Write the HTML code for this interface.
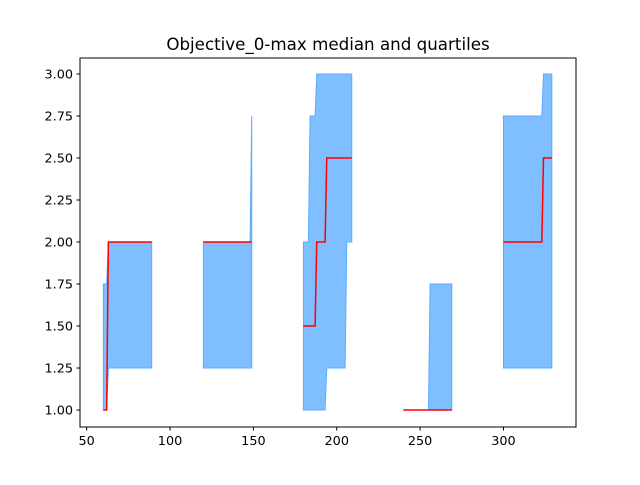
<!DOCTYPE html>
<html><head><meta charset="utf-8"><style>
body{margin:0;background:#fff}
svg text{font-family:"DejaVu Sans","Liberation Sans",sans-serif;fill:#000}
</style></head><body>
<svg id="chart" width="640" height="480">
<text x="328" y="50" font-size="16.7" text-anchor="middle">Objective_0-max median and quartiles</text>
<g id="plot"></g>
<rect x="80" y="58" width="496" height="369" fill="none" stroke="#000" stroke-width="1"/>
<g id="axes"></g>
</svg>
<script>
const seg1X=[60,62,63,89];
const seg1Upper=[1.75,1.75,2.0,2.0];
const seg1Lower=[1.0,1.0,1.25,1.25];
const seg1Median=[1.0,1.0,2.0,2.0];
const seg2X=[120,148,149];
const seg2Upper=[2.0,2.0,2.75];
const seg2Lower=[1.25,1.25,1.25];
const seg2Median=[2.0,2.0,2.0];
const seg3X=[180,183,184,187,188,189,193,194,205,206,209];
const seg3Upper=[2.0,2.0,2.75,2.75,3.0,3.0,3.0,3.0,3.0,3.0,3.0];
const seg3Lower=[1.0,1.0,1.0,1.0,1.0,1.0,1.0,1.25,1.25,2.0,2.0];
const seg3Median=[1.5,1.5,1.5,1.5,2.0,2.0,2.0,2.5,2.5,2.5,2.5];
const seg4X=[240,255,256,269];
const seg4Upper=[1.0,1.0,1.75,1.75];
const seg4Lower=[1.0,1.0,1.0,1.0];
const seg4Median=[1.0,1.0,1.0,1.0];
const seg5X=[300,322,323,324,329];
const seg5Upper=[2.75,2.75,2.75,3.0,3.0];
const seg5Lower=[1.25,1.25,1.25,1.25,1.25];
const seg5Median=[2.0,2.0,2.0,2.5,2.5];
const xTicks=[50,100,150,200,250,300];
const yTicks=[1.00,1.25,1.50,1.75,2.00,2.25,2.50,2.75,3.00];

const xMin=46,xMax=343.5,yMin=0.899,yMax=3.095;
const L=80,R=576,T=58,B=427;
const sx=v=>L+(v-xMin)/(xMax-xMin)*(R-L);
const sy=v=>B-(v-yMin)/(yMax-yMin)*(B-T);
const NS='http://www.w3.org/2000/svg';
const plot=document.getElementById('plot'),axes=document.getElementById('axes');
const segs=[[seg1X,seg1Upper,seg1Lower,seg1Median],[seg2X,seg2Upper,seg2Lower,seg2Median],[seg3X,seg3Upper,seg3Lower,seg3Median],[seg4X,seg4Upper,seg4Lower,seg4Median],[seg5X,seg5Upper,seg5Lower,seg5Median]];
segs.forEach((s,i)=>{
  const [xs,up,lo,md]=s;
  let pts=xs.map((x,j)=>sx(x)+','+sy(up[j]));
  for(let j=xs.length-1;j>=0;j--)pts.push(sx(xs[j])+','+sy(lo[j]));
  const p=document.createElementNS(NS,'polygon');
  p.setAttribute('points',pts.join(' '));
  p.setAttribute('fill','#80bfff');p.setAttribute('stroke','#5aabff');p.setAttribute('stroke-width','1');
  
  
  plot.appendChild(p);
});
segs.forEach((s,i)=>{
  const [xs,,,md]=s;
  const l=document.createElementNS(NS,'polyline');
  l.setAttribute('points',xs.map((x,j)=>sx(x)+','+sy(md[j])).join(' '));
  l.setAttribute('fill','none');l.setAttribute('stroke','#ff0000');l.setAttribute('stroke-width','1.5');
  
  
  plot.appendChild(l);
});
xTicks.forEach(v=>{
  const x=sx(v);
  const t=document.createElementNS(NS,'line');
  t.setAttribute('x1',x);t.setAttribute('x2',x);t.setAttribute('y1',B);t.setAttribute('y2',B+3.5);t.setAttribute('stroke','#000');
  
  
  axes.appendChild(t);
  const tx=document.createElementNS(NS,'text');
  tx.setAttribute('x',x);tx.setAttribute('y',B+18);tx.setAttribute('font-size','12.8');tx.setAttribute('text-anchor','middle');
  tx.textContent=v;
  
  
  axes.appendChild(tx);
});
yTicks.forEach(v=>{
  const y=sy(v);
  const t=document.createElementNS(NS,'line');
  t.setAttribute('x1',L-3.5);t.setAttribute('x2',L);t.setAttribute('y1',y);t.setAttribute('y2',y);t.setAttribute('stroke','#000');
  
  
  axes.appendChild(t);
  const tx=document.createElementNS(NS,'text');
  tx.setAttribute('x',L-7);tx.setAttribute('y',y+4.5);tx.setAttribute('font-size','12.8');tx.setAttribute('text-anchor','end');
  tx.textContent=v.toFixed(2);
  
  
  axes.appendChild(tx);
});
</script>
</body></html>
